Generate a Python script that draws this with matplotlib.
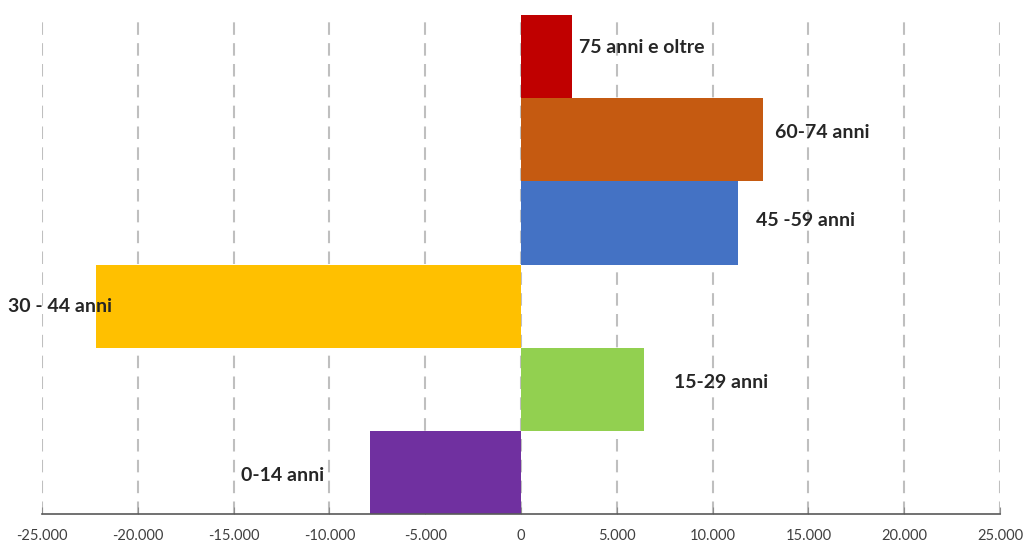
import matplotlib.pyplot as plt
from matplotlib.ticker import FuncFormatter

# Saldo per classi di età
classi = ['0-14 anni', '15-29 anni', '30 - 44 anni', '45 -59 anni', '60-74 anni', '75 anni e oltre']
valori = [-7900, 6400, -22200, 11350, 12650, 2650]
colori = ['#7030A0', '#92D050', '#FFC000', '#4472C4', '#C55A11', '#C00000']

# posizione delle etichette (in unità dei dati)
etichette_x = [-14600, 8000, -26800, 12250, 13250, 3050]
etichette_y = [-0.04, 1.08, 1.99, 3.03, 4.09, 5.11]

plt.rcParams['font.family'] = ['Lato', 'DejaVu Sans']

fig = plt.figure(figsize=(10.30, 5.44), dpi=100)
ax = fig.add_axes([42 / 1030, 30 / 544, 958 / 1030, 499 / 544])

ax.barh(range(len(classi)), valori, height=1.0, color=colori, zorder=2)

for nome, x, y in zip(classi, etichette_x, etichette_y):
    ax.text(x, y, nome, fontsize=14, fontweight='bold', color='#262626',
            va='center', ha='left', zorder=3, clip_on=False)

ax.set_xlim(-25000, 25000)
ax.set_ylim(-0.5, 5.5)
ax.set_xticks(range(-25000, 25001, 5000))
ax.xaxis.set_major_formatter(FuncFormatter(lambda v, p: f'{int(v):,}'.replace(',', '.')))
ax.set_yticks([])

ax.grid(axis='x', color='#BFBFBF', linestyle=(0, (6, 4)), linewidth=1.5, zorder=1)
for lato in ['top', 'right', 'left']:
    ax.spines[lato].set_visible(False)
ax.spines['bottom'].set_color('#595959')
ax.spines['bottom'].set_linewidth(1.2)
ax.tick_params(axis='x', direction='in', length=5, color='#8C8C8C', labelsize=10.5,
               labelcolor='#404040', pad=11)

plt.savefig('out.png', dpi=100)
plt.close()
